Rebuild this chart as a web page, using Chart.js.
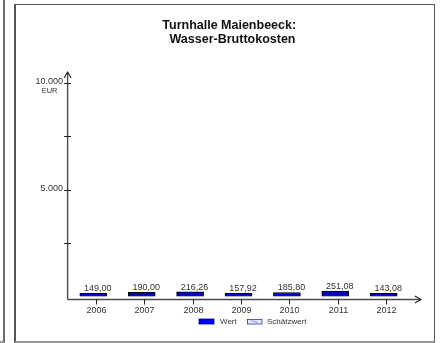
<!DOCTYPE html>
<html>
<head>
<meta charset="utf-8">
<script src="https://cdn.jsdelivr.net/npm/chart.js@4.4.1/dist/chart.umd.min.js"></script>
<style>
  html, body { margin: 0; padding: 0; background: #fff; }
  #wrap { position: relative; width: 442px; height: 343px; overflow: hidden; }
  #prev { position: absolute; left: -10px; top: -2px; width: 13px; height: 343px; border-right: 2px solid #6a6a6a; border-bottom: 2px solid #9a9a9a; }
  #frame { position: absolute; left: 14px; top: 4px; width: 418px; height: 336px; border: 1px solid #555; border-left-width: 2px; border-bottom: 2px solid #999; }
  canvas { position: absolute; left: 0; top: 0; }
</style>
</head>
<body>
<div id="wrap">
  <div id="prev"></div>
  <div id="frame"></div>
  <canvas id="c" width="442" height="343"></canvas>
</div>
<script>
const titleLines = ['Turnhalle Maienbeeck:', 'Wasser-Bruttokosten'];
const years = ['2006', '2007', '2008', '2009', '2010', '2011', '2012'];
const wert = [149.00, 190.00, 216.26, 157.92, 185.80, 251.08, 143.08];
const schaetzwert = [null, null, null, null, null, null, null];
const yTicks = [2500, 5000, 7500, 10000];
const yTickLabels = ['', '5.000', '', '10.000'];
const yUnit = 'EUR';
const yMax = 10000;

const fmt = v => v.toFixed(2).replace('.', ',');
const FONT = '"Liberation Sans", Arial, sans-serif';

const drawPlugin = {
  id: 'customDraw',
  afterDraw(chart) {
    const ctx = chart.ctx;
    const xs = chart.scales.x, ys = chart.scales.y;
    const area = chart.chartArea;
    const axisX = area.left - 1.5;
    const axisY = ys.getPixelForValue(0) + 3;
    ctx.save();
    // axes
    ctx.strokeStyle = '#4a4a4a';
    ctx.lineWidth = 1.4;
    ctx.beginPath();
    ctx.moveTo(axisX, axisY);
    ctx.lineTo(axisX, ys.getPixelForValue(yMax) - 11);
    ctx.moveTo(axisX, axisY);
    ctx.lineTo(xs.right + 13, axisY);
    ctx.stroke();
    // arrows
    ctx.lineWidth = 1.1;
    ctx.strokeStyle = '#222';
    const topY = ys.getPixelForValue(yMax) - 11;
    ctx.beginPath();
    ctx.moveTo(axisX - 3.5, topY + 6);
    ctx.lineTo(axisX, topY);
    ctx.lineTo(axisX + 3.5, topY + 6);
    const rx = xs.right + 13;
    ctx.moveTo(rx - 6, axisY - 3.5);
    ctx.lineTo(rx, axisY);
    ctx.lineTo(rx - 6, axisY + 3.5);
    ctx.stroke();
    // y ticks
    ctx.strokeStyle = '#222';
    ctx.lineWidth = 1;
    ctx.fillStyle = '#333';
    ctx.font = '9px ' + FONT;
    ctx.textAlign = 'right';
    ctx.textBaseline = 'middle';
    yTicks.forEach((t, i) => {
      const y = Math.round(ys.getPixelForValue(t)) + 0.5;
      ctx.beginPath();
      ctx.moveTo(axisX - 3.5, y);
      ctx.lineTo(axisX + 3.5, y);
      ctx.stroke();
      if (yTickLabels[i]) ctx.fillText(yTickLabels[i], axisX - 4.5, y - 1.5);
    });
    // unit
    ctx.textAlign = 'center';
    ctx.font = '7.5px ' + FONT;
    ctx.fillText(yUnit, axisX - 18, ys.getPixelForValue(yMax) + 7.5);
    // x ticks + labels
    ctx.font = '9px ' + FONT;
    ctx.textBaseline = 'middle';
    years.forEach((yr, i) => {
      const x = Math.round(xs.getPixelForValue(i) + 2.5) + 0.5;
      ctx.beginPath();
      ctx.moveTo(x, axisY);
      ctx.lineTo(x, axisY + 5);
      ctx.stroke();
      ctx.fillText(yr, x, axisY + 11);
    });
    // value labels
    ctx.textBaseline = 'alphabetic';
    wert.forEach((v, i) => {
      const x = xs.getPixelForValue(i) + 4.5;
      const y = ys.getPixelForValue(v) - 2.2;
      ctx.fillText(fmt(v), x, y);
    });
    // title
    ctx.fillStyle = '#111';
    ctx.font = 'bold 12.5px ' + FONT;
    ctx.textBaseline = 'alphabetic';
    ctx.fillText(titleLines[0], 229.2, 28.5);
    ctx.fillText(titleLines[1], 232.5, 42.5);
    // legend
    const ds = chart.data.datasets;
    ctx.font = '8px ' + FONT;
    ctx.textAlign = 'left';
    ctx.textBaseline = 'middle';
    const ly = 319;
    ctx.fillStyle = '#0000ff';
    ctx.fillRect(199, ly, 15, 5);
    ctx.strokeStyle = '#000060';
    ctx.lineWidth = 0.8;
    ctx.strokeRect(199, ly, 15, 5);
    ctx.fillStyle = '#333';
    ctx.fillText(ds[0].label, 220, ly + 3);
    ctx.fillStyle = '#e6e6ff';
    ctx.fillRect(247, ly, 15, 5);
    ctx.strokeStyle = '#3030c0';
    ctx.strokeRect(247.5, ly + 0.5, 14.5, 4.5);
    ctx.strokeStyle = '#8080ff';
    ctx.beginPath();
    ctx.moveTo(251, ly + 1.5);
    ctx.lineTo(258, ly + 3.5);
    ctx.stroke();
    ctx.fillStyle = '#333';
    ctx.fillText(ds[1].label, 267, ly + 3);
    ctx.restore();
  }
};

new Chart(document.getElementById('c'), {
  type: 'bar',
  data: {
    labels: years,
    datasets: [
      { label: 'Wert', data: wert, backgroundColor: '#0000c8', borderColor: '#000000', borderWidth: 1, borderSkipped: false, barThickness: 27, grouped: false },
      { label: 'Schätzwert', data: schaetzwert, backgroundColor: '#e6e6ff', borderColor: '#3030c0', borderWidth: 1, barThickness: 27, grouped: false }
    ]
  },
  options: {
    responsive: false,
    animation: false,
    layout: { padding: { left: 69.1, right: 34.1, top: 83, bottom: 46.5 } },
    scales: {
      x: { display: false, offset: true },
      y: { display: false, min: 0, max: yMax }
    },
    plugins: { legend: { display: false }, title: { display: false }, tooltip: { enabled: false } }
  },
  plugins: [drawPlugin]
});
</script>
</body>
</html>
